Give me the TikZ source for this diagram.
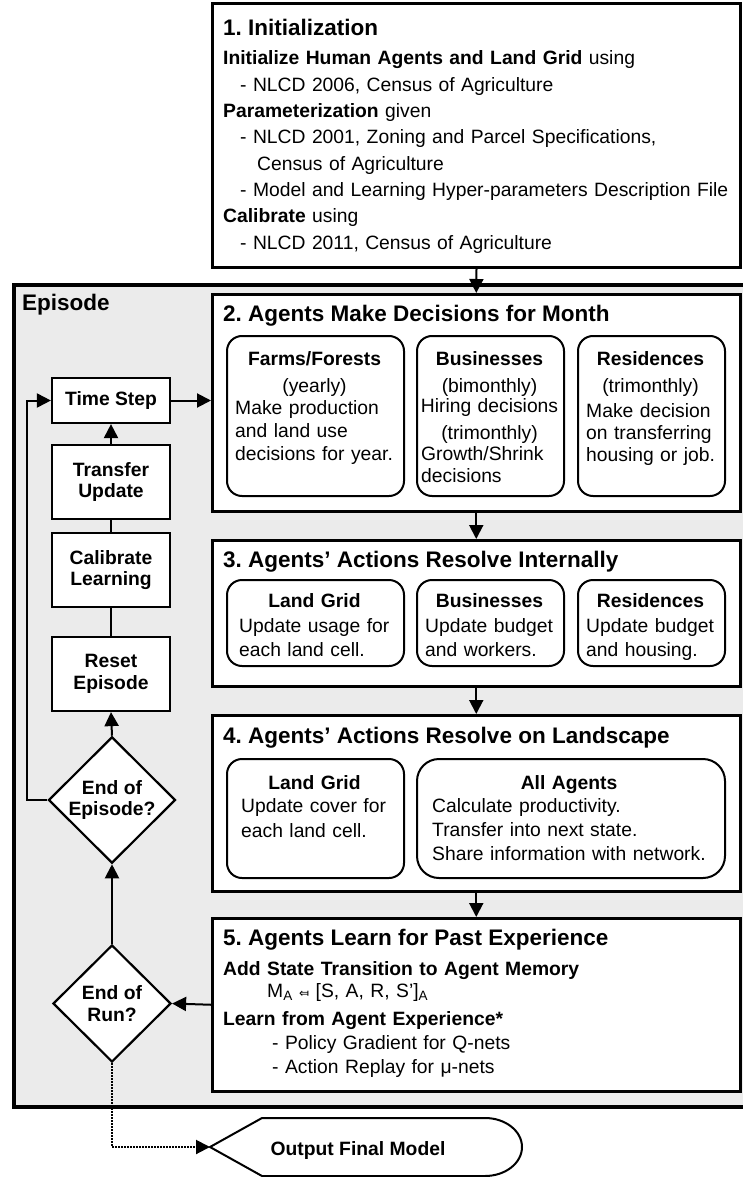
\documentclass[tikz,border=0pt]{standalone}
\usepackage{fontspec}
\setmainfont{Liberation Sans}
\newfontfamily\symfont{DejaVu Sans}
\usetikzlibrary{arrows.meta,shapes.geometric}

\definecolor{episodegray}{RGB}{235,235,235}

\newcommand{\bodysize}{\fontsize{19.3}{23}\selectfont}
\newcommand{\titlesize}{\fontsize{22.5}{26}\selectfont\bfseries}

\tikzset{
  stepbox/.style={draw, line width=2.5pt, fill=white, inner sep=0pt, anchor=north west},
  agentbox/.style={draw, line width=2pt, fill=white, rounded corners=15pt, inner sep=0pt, anchor=north west},
  sidebox/.style={draw, line width=2.2pt, fill=white, minimum width=118pt, inner sep=0pt, align=center,
    font=\fontsize{19.3}{21.5}\selectfont\bfseries},
  decision/.style={diamond, draw, line width=2.2pt, fill=white, inner sep=0pt, align=center,
    font=\fontsize{19.3}{21.5}\selectfont\bfseries},
  steptitle/.style={anchor=base west, inner sep=0pt, font=\titlesize},
  steptext/.style={anchor=base west, inner sep=0pt, text width=515pt, align=left, font=\bodysize},
  agenthead/.style={anchor=base, inner sep=0pt, align=center, font=\fontsize{19.3}{27}\selectfont},
  arr/.style={-{Triangle[length=14pt,width=14pt]}, line width=2pt},
  link/.style={line width=2pt},
}

\begin{document}
\frenchspacing
\begin{tikzpicture}[x=1pt,y=-1pt]
\useasboundingbox (0,0) rectangle (743,1177);

% episode frame
\node[draw, line width=3.5pt, fill=episodegray, anchor=north west, inner sep=0pt,
  minimum width=745pt, minimum height=822pt] (episode) at (12,283) {};
\node[steptitle] (episodeLabel) at (22,310) {Episode};

% 1. initialization
\node[stepbox, line width=3pt, minimum width=528pt, minimum height=264pt] (init) at (211,2) {};
\node[steptitle] (initTitle) at (223,36) {1. Initialization};
\node[steptext, font=\fontsize{19.3}{26.3}\selectfont] (initText) at (223,65) {%
\textbf{Initialize Human Agents and Land Grid} using\\
\hspace*{17pt}- NLCD 2006, Census of Agriculture\\
\textbf{Parameterization} given\\
\hspace*{17pt}- NLCD 2001, Zoning and Parcel Specifications,\\
\hspace*{34pt}Census of Agriculture\\
\hspace*{17pt}- Model and Learning Hyper-parameters Description File\\
\textbf{Calibrate} using\\
\hspace*{17pt}- NLCD 2011, Census of Agriculture};

% 2. decisions
\node[stepbox, minimum width=528pt, minimum height=217pt] (decide) at (211,293) {};
\node[steptitle] (decideTitle) at (223,321) {2. Agents Make Decisions for Month};
\node[agentbox, minimum width=177pt, minimum height=160pt] (farms) at (226,335) {};
\node[agentbox, minimum width=147pt, minimum height=160pt] (busi) at (416,335) {};
\node[agentbox, minimum width=147pt, minimum height=160pt] (resid) at (577,335) {};
\node[agenthead, text width=170pt] (farmsHead) at (314.5,365) {\textbf{Farms/Forests}\\(yearly)};
\node[steptext, text width=170pt] (farmsText) at (235,414) {Make production\\and land use\\decisions for year.};
\node[agenthead, text width=145pt] (busiHead) at (489.5,365) {\textbf{Businesses}\\(bimonthly)\\[-7pt]Hiring decisions\\(trimonthly)};
\node[steptext, text width=140pt, font=\fontsize{19.3}{22}\selectfont] (busiText) at (421,460) {Growth/Shrink\\decisions};
\node[agenthead, text width=145pt] (residHead) at (650.5,365) {\textbf{Residences}\\(trimonthly)};
\node[steptext, text width=140pt, font=\fontsize{19.3}{22}\selectfont] (residText) at (586,417) {Make decision\\on transferring\\housing or job.};

% 3. resolve internally
\node[stepbox, minimum width=528pt, minimum height=146pt] (resolve) at (211,539) {};
\node[steptitle] (resolveTitle) at (223,567) {3. Agents’ Actions Resolve Internally};
\node[agentbox, minimum width=177pt, minimum height=86pt] (gridA) at (226,579) {};
\node[agentbox, minimum width=147pt, minimum height=86pt] (busiB) at (416,579) {};
\node[agentbox, minimum width=147pt, minimum height=86pt] (residB) at (577,579) {};
\node[agenthead, text width=170pt] (gridAHead) at (314.5,607) {\textbf{Land Grid}};
\node[steptext, text width=170pt, font=\fontsize{19.3}{24}\selectfont] (gridAText) at (239,632) {Update usage for\\each land cell.};
\node[agenthead, text width=145pt] (busiBHead) at (489.5,607) {\textbf{Businesses}};
\node[steptext, text width=140pt, font=\fontsize{19.3}{24}\selectfont] (busiBText) at (425,632) {Update budget\\and workers.};
\node[agenthead, text width=145pt] (residBHead) at (650.5,607) {\textbf{Residences}};
\node[steptext, text width=140pt, font=\fontsize{19.3}{24}\selectfont] (residBText) at (586,632) {Update budget\\and housing.};

% 4. resolve on landscape
\node[stepbox, minimum width=528pt, minimum height=176pt] (landscape) at (211,714) {};
\node[steptitle] (landscapeTitle) at (223,743) {4. Agents’ Actions Resolve on Landscape};
\node[agentbox, minimum width=177pt, minimum height=119pt] (gridB) at (226,758) {};
\node[agentbox, rounded corners=22pt, minimum width=308pt, minimum height=119pt] (allAgents) at (416,758) {};
\node[agenthead, text width=170pt] (gridBHead) at (314.5,789) {\textbf{Land Grid}};
\node[steptext, text width=170pt, font=\fontsize{19.3}{25}\selectfont] (gridBText) at (241,812) {Update cover for\\each land cell.};
\node[agenthead, text width=300pt] (allHead) at (569,789) {\textbf{All Agents}};
\node[steptext, text width=290pt, font=\fontsize{19.3}{24}\selectfont] (allText) at (432,812) {Calculate productivity.\\Transfer into next state.\\Share information with network.};

% 5. learn
\node[stepbox, minimum width=528pt, minimum height=173pt] (learn) at (211,917) {};
\node[steptitle] (learnTitle) at (223,945) {5. Agents Learn for Past Experience};
\node[steptext, font=\fontsize{19.3}{24}\selectfont] (learnText) at (223,975) {%
\textbf{Add State Transition to Agent Memory}\\[-2pt]
\hspace*{44pt}M\textsubscript{A} {\symfont\fontsize{12}{12}\selectfont ⤆} [S, A, R, S’]\textsubscript{A}\\[4pt]
\textbf{Learn from Agent Experience*}\\
\hspace*{49pt}- Policy Gradient for Q-nets\\
\hspace*{49pt}- Action Replay for μ-nets};

% left column
\node[sidebox, minimum height=45pt] (time) at (111,400.5) {Time Step};
\node[sidebox, minimum height=74pt] (transfer) at (111,482) {Transfer\\Update};
\node[sidebox, minimum height=74pt] (calib) at (111,570) {Calibrate\\Learning};
\node[sidebox, minimum height=74pt] (reset) at (111,674) {Reset\\Episode};
\node[decision, minimum width=127pt, minimum height=126pt] (endEpisode) at (112,800) {End of\\Episode?};
\node[decision, minimum width=118pt, minimum height=117pt] (endRun) at (112,1003.5) {End of\\Run?};

% output
\coordinate (outTip) at (210,1147);
\draw[line width=2pt, fill=white] (outTip) -- (262,1118) -- (485,1118)
  arc[start angle=-90, end angle=90, x radius=37, y radius=29] -- (262,1176) -- cycle;
\node[inner sep=0pt, anchor=base, font=\bodysize\bfseries] (output) at (358,1155) {Output Final Model};

% connectors
\draw[arr] (init.south) -- (decide.north);
\draw[arr] (decide.south) -- (resolve.north);
\draw[arr] (resolve.south) -- (landscape.north);
\draw[arr] (landscape.south) -- (learn.north);
\draw[arr] (learn.west) -- (endRun.east);
\draw[arr] (endRun.north) -- (endEpisode.south);
\draw[arr] (endEpisode.north) -- (reset.south);
\draw[link] (reset.north) -- (calib.south);
\draw[link] (calib.north) -- (transfer.south);
\draw[arr] (transfer.north) -- (time.south);
\draw[arr] (time.east) -- (time.east -| decide.west);
\coordinate (loopCorner) at (27,800);
\draw[arr] (endEpisode.west) -- (loopCorner) |- (time.west);
\draw[arr, dash pattern=on 1.5pt off 1.5pt] (endRun.south) |- (outTip);
\end{tikzpicture}
\end{document}
